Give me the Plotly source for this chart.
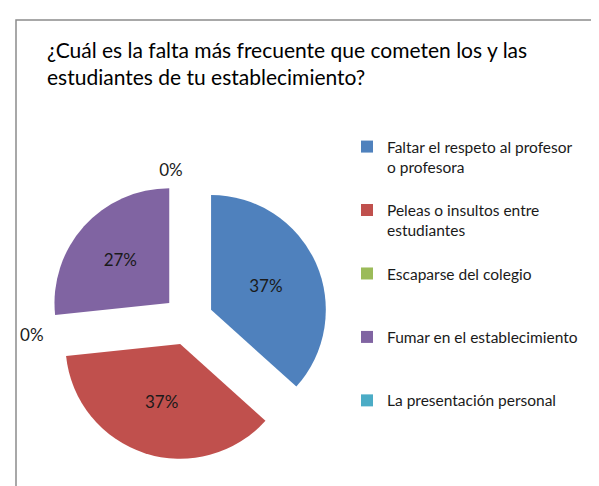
import plotly.graph_objects as go

categories = [
    "Faltar el respeto al profesor<br>o profesora<br> ",
    "Peleas o insultos entre<br>estudiantes<br> ",
    "Escaparse del colegio<br> <br> ",
    "Fumar en el establecimiento<br> <br> ",
    "La presentación personal",
]
values = [11, 11, 0, 8, 0]
colors = ["#4F81BD", "#C0504D", "#9BBB59", "#8064A2", "#4BACC6"]
text_positions = ["inside", "inside", "outside", "inside", "outside"]

W, H = 599, 486
FONT = "Lato, Liberation Sans, Arial, sans-serif"

cx, cy, half = 180, 312, 140

fig = go.Figure(go.Pie(
    labels=categories,
    values=values,
    sort=False,
    direction="clockwise",
    rotation=0,
    pull=[0.22] * len(values),
    marker=dict(colors=colors, line=dict(width=0)),
    texttemplate="%{percent:.0%}",
    textposition=text_positions,
    insidetextorientation="horizontal",
    textfont=dict(family=FONT, size=17, color="#1a1a1a"),
    hoverinfo="label+percent",
    domain=dict(x=[(cx - half) / W, (cx + half) / W],
                y=[1 - (cy + half) / H, 1 - (cy - half) / H]),
    showlegend=True,
))

fig.update_layout(
    width=W, height=H,
    margin=dict(l=0, r=0, t=0, b=0, autoexpand=False),
    paper_bgcolor="white",
    plot_bgcolor="white",
    font=dict(family=FONT, color="#1a1a1a"),
    title=dict(
        text="¿Cuál es la falta más frecuente que cometen los y las<br>estudiantes de tu establecimiento?",
        x=39 / W, xanchor="left", xref="paper",
        y=1 - 50 / H, yanchor="top", yref="paper",
        font=dict(family=FONT, size=21, color="#000000"),
    ),
    legend=dict(
        x=339 / W, xanchor="left",
        y=1 - 122 / H, yanchor="top",
        valign="top",
        font=dict(family=FONT, size=15.5, color="#1a1a1a"),
        itemwidth=30,
        tracegroupgap=0,
    ),
    shapes=[dict(
        type="rect", xref="paper", yref="paper",
        x0=8 / W, x1=1.2, y0=-0.2, y1=1 - 12 / H,
        line=dict(color="#8c8c8c", width=1.5),
        fillcolor="rgba(0,0,0,0)", layer="below",
    )],
)

fig.write_html("out.html")
